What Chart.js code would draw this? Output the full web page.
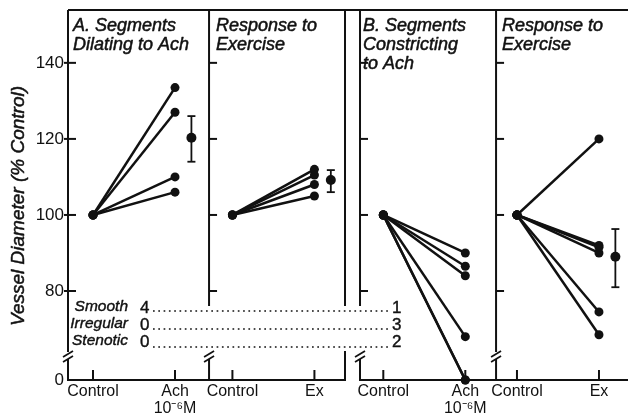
<!DOCTYPE html>
<html>
<head>
<meta charset="utf-8">
<script src="https://cdn.jsdelivr.net/npm/chart.js@4.4.0/dist/chart.umd.min.js"></script>
<style>
html, body { margin: 0; padding: 0; background: #fff; }
#wrap { width: 628px; height: 420px; position: relative; }
</style>
</head>
<body>
<div id="wrap"><canvas id="vesselChart" width="628" height="420"></canvas></div>
<script>
// values (% of control diameter)
const controlValue = 100;
const dilatingAch = [133.5, 127, 110, 106];
const dilatingEx = [112, 110.5, 108, 105];
const constrictingAch = [90, 86.5, 84, 68, 0, 0];
const constrictingEx = [92, 91.5, 90, 74.5, 68.5, 120];
const meanValues = [120.3, 109.2, null, 89];
const errHigh = [126, 111.8, null, 96.3];
const errLow = [114, 106, null, 81];

const yTicks = [80, 100, 120, 140];
const xTickLabels = ['Control', ['Ach', '10⁻⁶M'], 'Control', 'Ex', 'Control', ['Ach', '10⁻⁶M'], 'Control', 'Ex'];
const panelTitles = [['A. Segments', 'Dilating to Ach'], ['Response to', 'Exercise'], ['B. Segments', 'Constricting', 'to Ach'], ['Response to', 'Exercise']];
const yTitle = 'Vessel Diameter (% Control)';
const rowLabels = ['Smooth', 'Irregular', 'Stenotic'];
const countsA = [4, 0, 0];
const countsB = [1, 3, 2];

// layout (x in axis units: control of panel = 0, treatment = 1)
const yMin = 56.6, yMax = 153.9;
const xMin = -0.305, xMax = 6.524;
const panelStart = [0, 1.7, 3.54, 5.17];
const meanOffset = 1.2;
const edges = [
  { x: -0.305, gap: false, brk: true, ticks: true, tickIn: -4 },
  { x: 1.415, gap: true, brk: true, ticks: true, tickIn: 0 },
  { x: 3.073, gap: true, brk: false, ticks: false, tickIn: 0 },
  { x: 3.256, gap: true, brk: true, ticks: true, tickIn: 0 },
  { x: 4.915, gap: false, brk: true, ticks: true, tickIn: 0 }
];
const titleEdge = [0, 1, 3, 4];
const titleShift = [5, 7, 3, 6];
const FONT = '"Liberation Sans", Arial, sans-serif';
const INK = '#111';

const seriesByPanel = [dilatingAch, dilatingEx, constrictingAch, constrictingEx];
const datasets = [];
seriesByPanel.forEach((vals, p) => {
  vals.forEach(v => {
    datasets.push({
      data: [{ x: panelStart[p], y: controlValue }, { x: panelStart[p] + 1, y: Math.max(v, yMin) }],
      showLine: true,
      borderColor: INK,
      borderWidth: 2.5,
      pointRadius: 4.5,
      pointBackgroundColor: INK,
      pointBorderWidth: 0,
      clip: false
    });
  });
});
datasets.push({
  data: meanValues.map((m, i) => m === null ? null : { x: panelStart[i] + meanOffset, y: m }).filter(d => d),
  showLine: false,
  pointRadius: 5,
  pointBackgroundColor: INK,
  pointBorderWidth: 0,
  clip: false
});

const xTickValues = [];
panelStart.forEach(s => { xTickValues.push(s, s + 1); });

// draws filled text with a thin outline so it looks as heavy as the print
function inkText(ctx, t, x, y, w) {
  ctx.lineWidth = w;
  ctx.strokeText(t, x, y);
  ctx.fillText(t, x, y);
}

const framePlugin = {
  id: 'frames',
  afterDraw(chart) {
    const ctx = chart.ctx;
    const xs = chart.scales.x, ys = chart.scales.y;
    const area = chart.chartArea;
    const X = v => xs.getPixelForValue(v);
    const Y = v => ys.getPixelForValue(v);
    const seg = (x1, y1, x2, y2) => { ctx.beginPath(); ctx.moveTo(x1, y1); ctx.lineTo(x2, y2); ctx.stroke(); };
    const top = area.top, bottom = area.bottom;
    const gapTop = 306, gapBottom = 351, brkY = 354;

    ctx.save();
    ctx.strokeStyle = INK;
    ctx.lineWidth = 2;
    ctx.lineCap = 'butt';
    // top border
    seg(X(edges[0].x), top, chart.width, top);
    // bottom axes
    seg(X(edges[0].x) - 1, bottom, X(edges[2].x) + 1, bottom);
    seg(X(edges[3].x) - 1, bottom, chart.width, bottom);

    edges.forEach(e => {
      const x = X(e.x);
      const endUpper = e.gap ? gapTop : (e.brk ? brkY - 2 : bottom);
      seg(x, top, x, endUpper);
      if (e.brk) {
        ctx.lineWidth = 1.7;
        seg(x - 5, brkY + 3, x + 5, brkY - 3);
        seg(x - 5, brkY + 8, x + 5, brkY + 2);
        ctx.lineWidth = 2;
        seg(x, brkY + 5, x, bottom);
      } else if (e.gap) {
        seg(x, gapBottom, x, bottom);
      }
      if (e.ticks) {
        yTicks.forEach(t => seg(x + e.tickIn, Y(t), x + 8, Y(t)));
      }
    });
    // x tick marks
    xTickValues.forEach(v => seg(X(v), bottom, X(v), bottom - 10));

    // error bars
    meanValues.forEach((m, i) => {
      if (m === null) return;
      const x = X(panelStart[i] + meanOffset);
      ctx.lineWidth = 1.8;
      seg(x, Y(errLow[i]), x, Y(errHigh[i]));
      seg(x - 4, Y(errLow[i]), x + 4, Y(errLow[i]));
      seg(x - 4, Y(errHigh[i]), x + 4, Y(errHigh[i]));
    });

    ctx.fillStyle = INK;
    ctx.lineJoin = 'round';

    // y axis title
    ctx.save();
    ctx.translate(19, 206);
    ctx.rotate(-Math.PI / 2);
    ctx.font = 'italic 19px ' + FONT;
    ctx.textAlign = 'center';
    ctx.textBaseline = 'middle';
    inkText(ctx, yTitle, 0, 0, 0.5);
    ctx.restore();

    // panel titles
    ctx.font = 'italic 18px ' + FONT;
    ctx.textAlign = 'left';
    ctx.textBaseline = 'alphabetic';
    panelTitles.forEach((lines, p) => {
      const x = X(edges[titleEdge[p]].x) + titleShift[p];
      lines.forEach((t, j) => inkText(ctx, t, x, 31 + j * 19, 0.5));
    });

    // morphology table
    const rowY = [307, 324, 341];
    const dotY = [311, 329, 347];
    rowLabels.forEach((lab, r) => {
      ctx.font = 'italic 15.5px ' + FONT;
      ctx.textAlign = 'right';
      ctx.textBaseline = 'middle';
      inkText(ctx, lab, 128, rowY[r], 0.4);
      ctx.font = '17px ' + FONT;
      ctx.textAlign = 'left';
      inkText(ctx, String(countsA[r]), 140, rowY[r] + 1, 0.4);
      inkText(ctx, String(countsB[r]), 392, rowY[r] + 1, 0.4);
      ctx.save();
      ctx.lineWidth = 1.7;
      ctx.setLineDash([1.7, 3.6]);
      seg(153, dotY[r], 390, dotY[r]);
      ctx.restore();
    });
    ctx.restore();
  }
};

new Chart(document.getElementById('vesselChart').getContext('2d'), {
  type: 'scatter',
  data: { datasets: datasets },
  options: {
    responsive: false,
    animation: false,
    devicePixelRatio: 1,
    layout: { autoPadding: false, padding: { top: 10, right: 0, left: 0, bottom: 0 } },
    plugins: { legend: { display: false }, tooltip: { enabled: false } },
    scales: {
      x: {
        type: 'linear',
        min: xMin,
        max: xMax,
        grid: { display: false, drawTicks: false },
        border: { display: false },
        afterFit: s => { s.height = 40; s.paddingLeft = 0; s.paddingRight = 0; },
        afterBuildTicks: s => { s.ticks = xTickValues.map(v => ({ value: v })); },
        ticks: {
          autoSkip: false,
          maxRotation: 0,
          padding: 3,
          color: INK,
          font: { family: FONT, size: 16, lineHeight: 1.05 },
          callback: (v, i) => xTickLabels[i]
        }
      },
      y: {
        type: 'linear',
        min: yMin,
        max: yMax,
        grid: { display: false, drawTicks: false },
        border: { display: false },
        afterFit: s => { s.width = 68; s.paddingTop = 0; s.paddingBottom = 0; },
        afterBuildTicks: s => { s.ticks = [yMin].concat(yTicks).map(v => ({ value: v })); },
        ticks: {
          padding: 4,
          color: INK,
          font: { family: FONT, size: 17 },
          callback: v => v === yMin ? '0' : String(v)
        }
      }
    }
  },
  plugins: [framePlugin]
});
</script>
</body>
</html>
